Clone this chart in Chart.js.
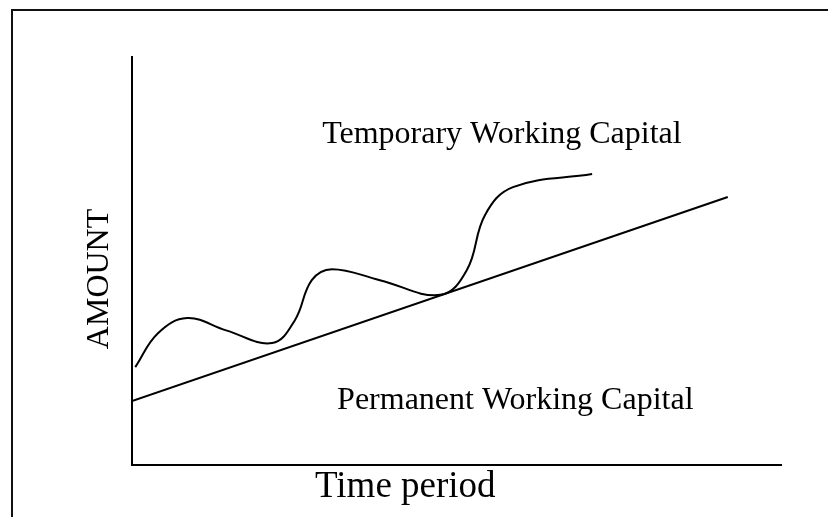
<!DOCTYPE html>
<html>
<head>
<meta charset="utf-8">
<script src="https://cdn.jsdelivr.net/npm/chart.js@4.4.1/dist/chart.umd.min.js"></script>
<style>
  html, body { margin: 0; padding: 0; background: #fff; overflow: hidden; }
  #wrap { position: relative; width: 828px; height: 517px; overflow: hidden; }
  #frame { position: absolute; left: 11px; top: 9px; width: 1000px; height: 1000px;
           border-left: 2px solid #111; border-top: 2px solid #111; }
  #box { position: absolute; left: 0; top: 0; width: 828px; height: 517px; }
</style>
</head>
<body>
<div id="wrap">
  <div id="frame"></div>
  <div id="box"><canvas id="c"></canvas></div>
</div>
<script>
// Time axis (arbitrary units) and amount axis (arbitrary units)
const timeRange = [0, 10];
const amountRange = [0, 100];

// Permanent working capital: straight rising line
const permanentTime = [0, 9.18];
const permanentAmount = [15.7, 65.7];

// Total (temporary + permanent) working capital: wavy curve
const totalTime = [0.05, 0.40, 0.85, 1.45, 2.16, 2.51, 2.77, 3.08, 3.82, 4.75, 5.16, 5.44, 5.87, 7.09];
const totalAmount = [24.0, 32.3, 36.0, 33.0, 29.9, 35.5, 45.3, 48.0, 45.3, 41.7, 47.8, 61.3, 68.1, 71.3];

// Text labels and their anchor positions (in data units)
const labels = [
  { text: 'Temporary Working Capital', t: 2.93, a: 78.9, size: 32 },
  { text: 'Permanent Working Capital', t: 3.16, a: 13.7, size: 32 }
];
const xTitle = { text: 'Time period', t: 2.82, size: 37 };
const yTitle = { text: 'AMOUNT', a: 45.6, size: 32 };

const toXY = (xs, ys) => xs.map((x, i) => ({ x: x, y: ys[i] }));

const textPlugin = {
  id: 'texts',
  afterDraw(chart) {
    const ctx = chart.ctx;
    const xs = chart.scales.x, ys = chart.scales.y;
    ctx.save();
    ctx.fillStyle = '#000';
    ctx.textBaseline = 'alphabetic';
    ctx.textAlign = 'left';
    labels.forEach(l => {
      ctx.font = l.size + 'px "Liberation Serif", "Times New Roman", serif';
      ctx.fillText(l.text, xs.getPixelForValue(l.t), ys.getPixelForValue(l.a));
    });
    ctx.font = xTitle.size + 'px "Liberation Serif", "Times New Roman", serif';
    ctx.fillText(xTitle.text, xs.getPixelForValue(xTitle.t), chart.chartArea.bottom + 32);
    ctx.font = yTitle.size + 'px "Liberation Serif", "Times New Roman", serif';
    ctx.translate(chart.chartArea.left - 24, ys.getPixelForValue(yTitle.a));
    ctx.rotate(-Math.PI / 2);
    ctx.textAlign = 'center';
    ctx.fillText(yTitle.text, 0, 0);
    ctx.restore();
  }
};

new Chart(document.getElementById('c'), {
  type: 'scatter',
  data: {
    datasets: [
      {
        label: 'Permanent Working Capital',
        data: toXY(permanentTime, permanentAmount),
        showLine: true,
        borderColor: '#000',
        borderWidth: 2,
        pointRadius: 0,
        tension: 0
      },
      {
        label: 'Temporary Working Capital',
        data: toXY(totalTime, totalAmount),
        showLine: true,
        borderColor: '#000',
        borderWidth: 2,
        pointRadius: 0,
        tension: 0.4
      }
    ]
  },
  options: {
    responsive: true,
    maintainAspectRatio: false,
    animation: false,
    events: [],
    layout: { padding: { left: 132, top: 57, right: 47, bottom: 52 } },
    plugins: { legend: { display: false }, tooltip: { enabled: false } },
    scales: {
      x: {
        type: 'linear', min: timeRange[0], max: timeRange[1],
        ticks: { display: false },
        grid: { display: false, drawTicks: false },
        border: { display: true, color: '#000', width: 2 }
      },
      y: {
        type: 'linear', min: amountRange[0], max: amountRange[1],
        ticks: { display: false },
        grid: { display: false, drawTicks: false },
        border: { display: true, color: '#000', width: 2 }
      }
    }
  },
  plugins: [textPlugin]
});
</script>
</body>
</html>
